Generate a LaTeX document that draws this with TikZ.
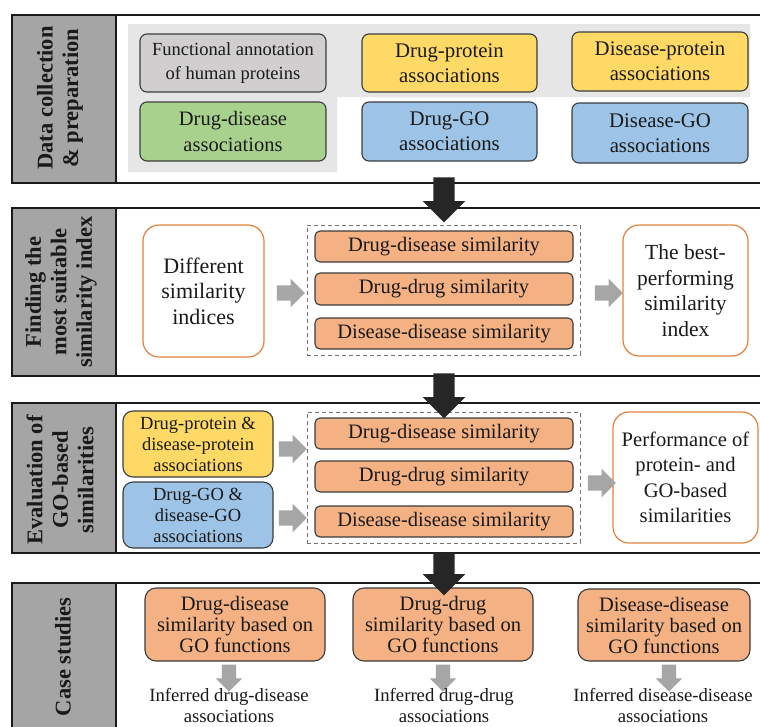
\documentclass[tikz,border=0pt]{standalone}
\usepackage{fontspec}
\setmainfont{Liberation Serif}
\usetikzlibrary{shapes.arrows,calc}

\definecolor{inkdark}{HTML}{1A1A1A}
\definecolor{framegray}{HTML}{A5A5A5}
\definecolor{bandgray}{HTML}{E7E6E6}
\definecolor{annotgray}{HTML}{D0CECE}
\definecolor{assocgreen}{HTML}{A9D18E}
\definecolor{assocyellow}{HTML}{FFD966}
\definecolor{assocblue}{HTML}{9DC3E6}
\definecolor{simorange}{HTML}{F4B183}
\definecolor{edgeorange}{HTML}{E3823E}
\definecolor{flowgray}{HTML}{A6A6A6}
\definecolor{flowblack}{HTML}{262626}

\tikzset{
  panel/.style={draw=inkdark, line width=2.4pt},
  sidelabel/.style={rotate=90, align=center, text=inkdark,
    font=\bfseries\fontsize{22.5}{25.5}\selectfont},
  box/.style={draw=inkdark!85, line width=1.1pt, rounded corners=7pt,
    inner sep=0pt, align=center, text=inkdark},
  simbox/.style={box, fill=simorange, rounded corners=5pt,
    minimum width=258pt, font=\fontsize{20.5}{22}\selectfont},
  openbox/.style={draw=edgeorange, line width=1.2pt, rounded corners=16pt,
    inner sep=0pt, align=center, text=inkdark, fill=white},
  groupbox/.style={draw=black!55, line width=0.9pt, dash pattern=on 4pt off 3pt,
    inner sep=0pt, minimum width=273pt},
  plainlabel/.style={align=center, text=inkdark, inner sep=0pt,
    font=\fontsize{18.7}{20.5}\selectfont},
  fatarrow/.style={single arrow, fill=flowgray, draw=none, inner sep=7.5pt,
    minimum height=28pt, single arrow head extend=6.5pt},
  downarrow/.style={single arrow, fill=flowgray, draw=none, inner sep=7pt,
    shape border rotate=270, minimum height=27pt,
    single arrow head extend=6pt},
  stagearrow/.style={single arrow, fill=flowblack, draw=none, inner sep=10.5pt,
    shape border rotate=270, minimum height=45pt,
    single arrow head extend=10.5pt},
}

\begin{document}
\begin{tikzpicture}[x=1pt, y=-1pt]
\useasboundingbox (0,0) rectangle (760,726);
\clip (0,0) rectangle (760,726);

% ---------- Stage 1: data collection ----------
\draw[panel, fill=white] (12,15) rectangle (775,183);
\draw[panel, fill=framegray] (12,15) rectangle (116,183);
\node[sidelabel] (lab1) at (60,98) {Data collection\\\& preparation};
\fill[bandgray] (128,24) -- (750,24) -- (750,97) -- (337,97) -- (337,172) -- (128,172) -- cycle;

\node[box, fill=annotgray, minimum width=186pt, minimum height=58pt,
  font=\fontsize{18.5}{24}\selectfont] (annot) at (233,63)
  {Functional annotation\\of human proteins};
\node[box, fill=assocgreen, minimum width=186pt, minimum height=59pt,
  font=\fontsize{20.5}{26}\selectfont] (drugdis) at (233,131.5)
  {Drug-disease\\associations};
\node[box, fill=assocyellow, minimum width=175pt, minimum height=58pt,
  font=\fontsize{20.8}{25}\selectfont] (drugprot) at (449.5,63)
  {Drug-protein\\associations};
\node[box, fill=assocyellow, minimum width=176pt, minimum height=59pt,
  font=\fontsize{20.8}{25}\selectfont] (disprot) at (660,61.5)
  {Disease-protein\\associations};
\node[box, fill=assocblue, minimum width=175pt, minimum height=59pt,
  font=\fontsize{20.8}{25}\selectfont] (druggo) at (449.5,131.5)
  {Drug-GO\\associations};
\node[box, fill=assocblue, minimum width=176pt, minimum height=60pt,
  font=\fontsize{20.8}{25}\selectfont] (disgo) at (660,133)
  {Disease-GO\\associations};

% ---------- Stage 2: similarity index ----------
\draw[panel, fill=white] (12,208) rectangle (775,376);
\draw[panel, fill=framegray] (12,208) rectangle (116,376);
\node[sidelabel] (lab2) at (61,292) {Finding the\\most suitable\\similarity index};

\node[openbox, minimum width=121pt, minimum height=132pt,
  font=\fontsize{22}{25.5}\selectfont] (indices) at (203.5,291)
  {Different\\similarity\\indices};
\node[groupbox, minimum height=130pt] (grpA) at (443.5,290) {};
\node[simbox, minimum height=31pt] (simA1) at (444,246.5) {Drug-disease similarity};
\node[simbox, minimum height=32pt] (simA2) at (444,289) {Drug-drug similarity};
\node[simbox, minimum height=31pt] (simA3) at (444,333.5) {Disease-disease similarity};
\node[openbox, minimum width=125pt, minimum height=131pt,
  font=\fontsize{21.5}{25.5}\selectfont] (best) at (685.5,290.5)
  {The best-\\performing\\similarity\\index};
\node[fatarrow] (arrA1) at (287,293) {};
\node[fatarrow] (arrA2) at (605,293) {};

% ---------- Stage 3: GO-based evaluation ----------
\draw[panel, fill=white] (12,403) rectangle (775,553);
\draw[panel, fill=framegray] (12,403) rectangle (116,553);
\node[sidelabel] (lab3) at (60,480) {Evaluation of\\GO-based\\similarities};

\node[box, fill=assocyellow, minimum width=150pt, minimum height=66pt,
  rounded corners=10pt, font=\fontsize{18.5}{21}\selectfont] (protin) at (198,444)
  {Drug-protein \&\\disease-protein\\associations};
\node[box, fill=assocblue, minimum width=150pt, minimum height=66pt,
  rounded corners=10pt, font=\fontsize{18.5}{21}\selectfont] (goin) at (198,515)
  {Drug-GO \&\\disease-GO\\associations};
\node[groupbox, minimum height=131pt] (grpB) at (443.5,477.5) {};
\node[simbox, minimum height=31pt] (simB1) at (444,433.5) {Drug-disease similarity};
\node[simbox, minimum height=31pt] (simB2) at (444,476.5) {Drug-drug similarity};
\node[simbox, minimum height=31pt] (simB3) at (444,521.5) {Disease-disease similarity};
\node[openbox, minimum width=145pt, minimum height=131pt,
  font=\fontsize{20.6}{25.5}\selectfont] (perf) at (685.5,477.5)
  {Performance of\\protein- and\\GO-based\\similarities};
\node[fatarrow] (arrB1) at (289,449) {};
\node[fatarrow] (arrB2) at (289,518) {};
\node[fatarrow] (arrB3) at (598,483) {};

% ---------- Stage 4: case studies ----------
\draw[panel, fill=white] (12,583) rectangle (775,735);
\draw[panel, fill=framegray] (12,583) rectangle (116,735);
\node[sidelabel] (lab4) at (63,657) {Case studies};

\node[box, fill=simorange, minimum width=180pt, minimum height=73pt,
  rounded corners=11pt, font=\fontsize{20.5}{21}\selectfont] (caseA) at (235,624.5)
  {Drug-disease\\similarity based on\\GO functions};
\node[box, fill=simorange, minimum width=180pt, minimum height=73pt,
  rounded corners=11pt, font=\fontsize{20.5}{21}\selectfont] (caseB) at (443,624.5)
  {Drug-drug\\similarity based on\\GO functions};
\node[box, fill=simorange, minimum width=172pt, minimum height=72pt,
  rounded corners=11pt, font=\fontsize{20.5}{21}\selectfont] (caseC) at (664,625)
  {Disease-disease\\similarity based on\\GO functions};

\node[downarrow] (downA) at (229,674.5) {};
\node[downarrow] (downB) at (443,674.5) {};
\node[downarrow] (downC) at (669,674.5) {};

\node[plainlabel] (inferA) at (229,705.5) {Inferred drug-disease\\associations};
\node[plainlabel] (inferB) at (444,705.5) {Inferred drug-drug\\associations};
\node[plainlabel] (inferC) at (663,705.5) {Inferred disease-disease\\associations};

% ---------- arrows between stages ----------
\node[stagearrow] (stage12) at (444,194.5) {};
\node[stagearrow] (stage23) at (444,390.5) {};
\node[stagearrow, minimum height=43pt] (stage34) at (444,568.5) {};
\end{tikzpicture}
\end{document}
